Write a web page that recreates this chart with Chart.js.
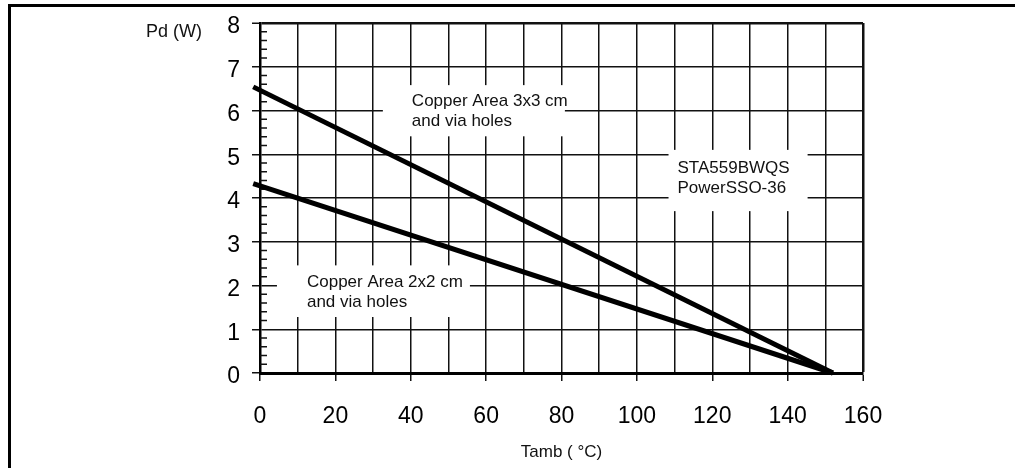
<!DOCTYPE html>
<html lang="en">
<head>
<meta charset="UTF-8" />
<title>Pd vs Tamb - STA559BWQS PowerSSO-36</title>
<script src="https://cdn.jsdelivr.net/npm/chart.js"></script>
<style>
  body {
    margin: 0;
    background: #fff;
    font-family: 'Liberation Sans', Arial, sans-serif;
  }
  .frame {
    position: absolute;
    left: 8px;
    top: 4px;
    right: 0;
    bottom: 0;
    border-left: 3px solid #000;
    border-top: 3px solid #000;
  }
  #chart {
    position: absolute;
    left: 0;
    top: 0;
  }
</style>
</head>
<body>

<div class="frame"></div>
<canvas id="chart" width="1015" height="468"></canvas>

<script>
  // data
  const tambPoints = [-1.8, 152];
  const pdCopper3x3 = [6.54, 0];
  const pdCopper2x2 = [4.33, 0];

  const xTickLabels = [0, 20, 40, 60, 80, 100, 120, 140, 160];
  const yTickLabels = [0, 1, 2, 3, 4, 5, 6, 7, 8];

  const noteTexts = [
    ['Copper Area 3x3 cm', 'and via holes'],
    ['STA559BWQS', 'PowerSSO-36'],
    ['Copper Area 2x2 cm', 'and via holes']
  ];

  // white boxes behind the notes, in axis units
  const noteBoxes = [
    { x0: 32.6, x1: 80.9, y0: 6.58, y1: 5.41, padX: 29, firstLine: 21 },
    { x0: 108.4, x1: 145.3, y0: 5.10, y1: 3.70, padX: 9, firstLine: 23 },
    { x0: 4.5, x1: 55.7, y0: 2.46, y1: 1.28, padX: 30, firstLine: 22 }
  ];

  const FONT = "'Liberation Sans', Arial, sans-serif";
  const INK = '#111';

  const toPoints = ys => tambPoints.map((t, i) => ({ x: t, y: ys[i] }));

  // notes, minor ticks and the y title
  const extras = {
    id: 'extras',
    beforeDatasetsDraw(chart) {
      const { ctx, scales: { x, y } } = chart;
      ctx.save();
      ctx.font = '17px ' + FONT;
      ctx.textBaseline = 'alphabetic';
      noteBoxes.forEach((b, i) => {
        const left = x.getPixelForValue(b.x0);
        const right = x.getPixelForValue(b.x1);
        const top = y.getPixelForValue(b.y0);
        const bottom = y.getPixelForValue(b.y1);
        ctx.fillStyle = '#fff';
        ctx.fillRect(left, top, right - left, bottom - top);
        ctx.fillStyle = INK;
        noteTexts[i].forEach((line, j) => {
          ctx.fillText(line, left + b.padX, top + b.firstLine + j * 20);
        });
      });

      // small inside ticks on the y axis every 0.2
      ctx.strokeStyle = INK;
      ctx.lineWidth = 1.5;
      ctx.beginPath();
      for (let k = 1; k < 40; k++) {
        if (k % 5 === 0) continue;
        const py = y.getPixelForValue(k / 5);
        ctx.moveTo(x.left, py);
        ctx.lineTo(x.left + 7, py);
      }
      ctx.stroke();

      ctx.font = '18px ' + FONT;
      ctx.textAlign = 'right';
      ctx.fillText('Pd (W)', chart.chartArea.left - 58, chart.chartArea.top + 14);
      ctx.restore();
    }
  };

  new Chart(document.getElementById('chart'), {
    type: 'scatter',
    data: {
      datasets: [
        {
          label: 'Copper Area 3x3 cm and via holes',
          data: toPoints(pdCopper3x3),
          showLine: true,
          borderColor: '#000',
          borderWidth: 5,
          pointRadius: 0,
          clip: false
        },
        {
          label: 'Copper Area 2x2 cm and via holes',
          data: toPoints(pdCopper2x2),
          showLine: true,
          borderColor: '#000',
          borderWidth: 5,
          pointRadius: 0,
          clip: false
        }
      ]
    },
    options: {
      responsive: false,
      animation: false,
      layout: { padding: { left: 0, right: 152, top: 23, bottom: 0 } },
      plugins: {
        legend: { display: false },
        tooltip: { enabled: false }
      },
      scales: {
        x: {
          type: 'linear',
          min: 0,
          max: 160,
          afterFit: s => {
            s.height = 95;
            s.paddingLeft = 0;
            s.paddingRight = 0;
          },
          border: { color: '#000', width: 3 },
          grid: {
            color: INK,
            lineWidth: c => (c.tick && c.tick.value === 160 ? 2.5 : 1.5),
            tickLength: 8,
            tickWidth: 1.5,
            tickColor: c => (c.tick && xTickLabels.includes(c.tick.value) ? INK : 'rgba(0,0,0,0)')
          },
          ticks: {
            stepSize: 10,
            autoSkip: false,
            maxRotation: 0,
            padding: 22,
            color: '#000',
            font: { family: FONT, size: 23 },
            callback: v => (xTickLabels.includes(v) ? String(v) : '')
          },
          title: {
            display: true,
            text: 'Tamb ( °C)',
            color: INK,
            font: { family: FONT, size: 17 },
            padding: { top: 0, bottom: 5 }
          }
        },
        y: {
          type: 'linear',
          min: 0,
          max: 8,
          afterFit: s => {
            s.width = 260;
            s.paddingTop = 0;
            s.paddingBottom = 0;
          },
          border: { color: '#000', width: 2.5 },
          grid: {
            color: INK,
            lineWidth: c => (c.tick && c.tick.value === 8 ? 2.5 : 1.5),
            tickLength: 8,
            tickWidth: 1.5,
            tickColor: INK
          },
          ticks: {
            stepSize: 1,
            padding: 12,
            labelOffset: 4,
            color: '#000',
            font: { family: FONT, size: 23 },
            callback: v => (yTickLabels.includes(v) ? String(v) : '')
          }
        }
      }
    },
    plugins: [extras]
  });
</script>

</body>
</html>
